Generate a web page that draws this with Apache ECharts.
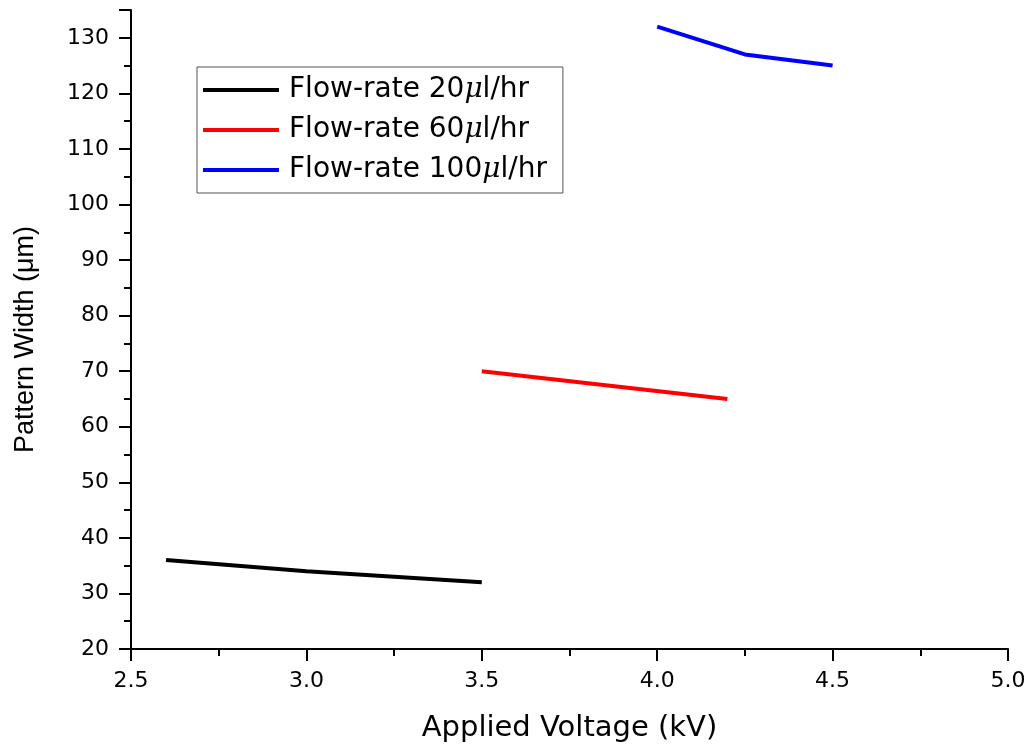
<!DOCTYPE html>
<html>
<head>
<meta charset="utf-8">
<script src="https://cdn.jsdelivr.net/npm/echarts@6/dist/echarts.min.js"></script>
<style>
  html, body { margin: 0; padding: 0; background: #fff; }
  #chart-container { width: 1032px; height: 747px; }
</style>
</head>
<body>
<div id="chart-container"></div>
<script>
var dom = document.getElementById("chart-container");
var myChart = echarts.init(dom, null, { renderer: "canvas" });

// series data: [voltage kV, width um]
var names = ["Flow-rate 20μl/hr", "Flow-rate 60μl/hr", "Flow-rate 100μl/hr"];
var colors = ["#000000", "#ff0000", "#0000ff"];
var flow20 = [[2.6, 36], [3.0, 34], [3.5, 32]];
var flow60 = [[3.5, 70], [4.2, 65]];
var flow100 = [[4.0, 132], [4.25, 127], [4.5, 125]];
var seriesData = [flow20, flow60, flow100];

// the original text is drawn wide, DejaVu Sans gets closest for horizontal text
var wideFont = "DejaVu Sans, sans-serif";
var font = "Liberation Sans, Arial, sans-serif";

function makeSeries(i) {
  return {
    name: names[i],
    type: "line",
    data: seriesData[i],
    showSymbol: false,
    symbol: "none",
    lineStyle: { color: colors[i], width: 4 },
    itemStyle: { color: colors[i] },
  };
}

var option = {
  backgroundColor: "#fff",
  animation: false,
  grid: { left: 131, right: 24, top: 10, bottom: 98, outerBoundsMode: "none" },
  legend: {
    left: 197,
    top: 67,
    orient: "vertical",
    icon: "rect",
    itemWidth: 76,
    itemHeight: 4,
    itemGap: 12,
    padding: [9, 16, 9, 6],
    borderColor: "#555",
    borderWidth: 1,
    borderRadius: 0,
    data: names,
    formatter: function (name) {
      return name.replace("μ", "{mu|μ}");
    },
    textStyle: {
      fontFamily: wideFont,
      fontSize: 28,
      color: "#000",
      padding: [0, 0, 0, 5],
      rich: {
        mu: { fontFamily: "DejaVu Serif, serif", fontStyle: "italic", fontSize: 28, color: "#000" },
      },
    },
  },
  xAxis: {
    type: "value",
    min: 2.5,
    max: 5.0,
    interval: 0.5,
    name: "Applied Voltage (kV)",
    nameLocation: "middle",
    nameGap: 65,
    nameTextStyle: { fontFamily: wideFont, fontSize: 29, color: "#000" },
    axisLine: { lineStyle: { color: "#000", width: 2 } },
    axisTick: { inside: false, length: 12, lineStyle: { color: "#000", width: 2 } },
    minorTick: { show: true, splitNumber: 2, length: 7, lineStyle: { color: "#000", width: 2 } },
    splitLine: { show: false },
    axisLabel: {
      fontFamily: wideFont,
      fontSize: 22,
      color: "#000",
      margin: 21,
      formatter: function (v) { return v.toFixed(1); },
    },
  },
  yAxis: {
    type: "value",
    min: 20,
    max: 135,
    interval: 10,
    name: "Pattern Width (μm)",
    nameLocation: "middle",
    nameGap: 92,
    nameTextStyle: { fontFamily: font, fontSize: 27, color: "#000", padding: [0, 20, 0, 0] },
    axisLine: { lineStyle: { color: "#000", width: 2 } },
    axisTick: { inside: false, length: 12, lineStyle: { color: "#000", width: 2 } },
    minorTick: { show: true, splitNumber: 2, length: 7, lineStyle: { color: "#000", width: 2 } },
    splitLine: { show: false },
    axisLabel: {
      fontFamily: wideFont,
      fontSize: 22,
      color: "#000",
      margin: 22,
      showMaxLabel: false,
    },
  },
  series: [makeSeries(0), makeSeries(1), makeSeries(2)],
};

myChart.setOption(option);
window.addEventListener("resize", function () {
  myChart.resize();
});
</script>
</body>
</html>
